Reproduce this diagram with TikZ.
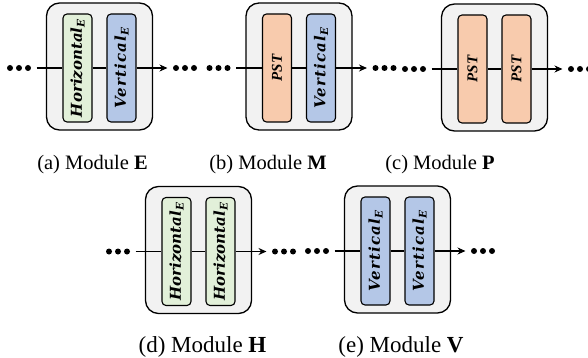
\documentclass[tikz,border=0pt]{standalone}
\usepackage{fontspec}
\setmainfont{Liberation Serif}
\newfontfamily\labfont{DejaVu Serif}
\newfontfamily\vlabfont[LetterSpace=8]{DejaVu Serif}
\newfontfamily\pstfont{Liberation Serif}
\usetikzlibrary{arrows.meta}
\definecolor{outerfill}{HTML}{F2F2F2}
\definecolor{hfill}{HTML}{E2F0D9}
\definecolor{pfill}{HTML}{F8CBAD}
\definecolor{vfill}{HTML}{B4C7E7}
\tikzset{
  outerbox/.style={draw=black, line width=1.3pt, fill=outerfill, rounded corners=13pt, minimum width=106pt, minimum height=127pt, inner sep=0pt},
  innerbox/.style={draw=black, line width=1.1pt, rounded corners=4pt, minimum width=29pt, minimum height=108pt, inner sep=0pt},
  hbox/.style={innerbox, fill=hfill},
  pbox/.style={innerbox, fill=pfill},
  vbox/.style={innerbox, fill=vfill},
  labtxt/.style={rotate=90, inner sep=0pt, font=\bfseries\itshape\fontsize{15}{17}\selectfont},
  dotnode/.style={circle, fill=black, inner sep=0pt, minimum size=6pt},
  conn/.style={line width=1.3pt},
  captop/.style={anchor=base, inner sep=0pt, font=\fontsize{20.5}{24}\selectfont},
  capbot/.style={anchor=base, inner sep=0pt, font=\fontsize{23}{27}\selectfont},
}
\newcommand\Hlab{{\labfont\bfseries\itshape Horizontal\textsubscript{E}}}
\newcommand\Vlab{{\vlabfont\bfseries\itshape Vertical\textsubscript{E}}}
\newcommand\Plab{{\pstfont\bfseries\itshape\fontsize{15}{17}\selectfont PST}}
% #1 prefix, #2 cx, #3 cy, #4 style1, #5 text1, #6 style2, #7 text2
\newcommand\modpanel[7]{%
  \begin{scope}[shift={(#2,#3)}]
    \node[outerbox] (#1o) at (0,0) {};
    \node[#4] (#1a) at (-22,1.5) {};
    \node[labtxt] (#1at) at (#1a.center) {#5};
    \node[#6] (#1b) at (22,1.5) {};
    \node[labtxt] (#1bt) at (#1b.center) {#7};
    \coordinate (#1s) at (-63,1.5);
    \coordinate (#1t) at (68,1.5);
    \node[dotnode] (#1l1) at (-89.5,1.5) {};
    \node[dotnode] (#1l2) at (-80.5,1.5) {};
    \node[dotnode] (#1l3) at (-71.5,1.5) {};
    \node[dotnode] (#1r1) at (76.5,1.5) {};
    \node[dotnode] (#1r2) at (85.5,1.5) {};
    \node[dotnode] (#1r3) at (94.5,1.5) {};
    \draw[conn] (#1s) -- (#1a.west);
    \draw[conn] (#1a.east) -- (#1b.west);
    \draw[conn, -{Stealth[length=8pt, width=7pt]}] (#1b.east) -- (#1t);
  \end{scope}}
\begin{document}
\begin{tikzpicture}[x=1pt, y=-1pt]
  \useasboundingbox (0,0) rectangle (588,358);
  \modpanel{A}{99.5}{66.5}{hbox}{\Hlab}{vbox}{\Vlab}
  \modpanel{B}{299}{66.5}{pbox}{\Plab}{vbox}{\Vlab}
  \modpanel{C}{494.5}{67.5}{pbox}{\Plab}{pbox}{\Plab}
  \modpanel{D}{198.5}{250}{hbox}{\Hlab}{hbox}{\Hlab}
  \modpanel{E}{397.5}{249.5}{vbox}{\Vlab}{vbox}{\Vlab}
  \node[captop] (capA) at (92.5,169) {(a) Module \textbf{E}};
  \node[captop] (capB) at (268,169) {(b) Module \textbf{M}};
  \node[captop] (capC) at (440,169) {(c) Module \textbf{P}};
  \node[capbot] (capD) at (202.5,352) {(d) Module \textbf{H}};
  \node[capbot] (capE) at (401,352) {(e) Module \textbf{V}};
\end{tikzpicture}
\end{document}
